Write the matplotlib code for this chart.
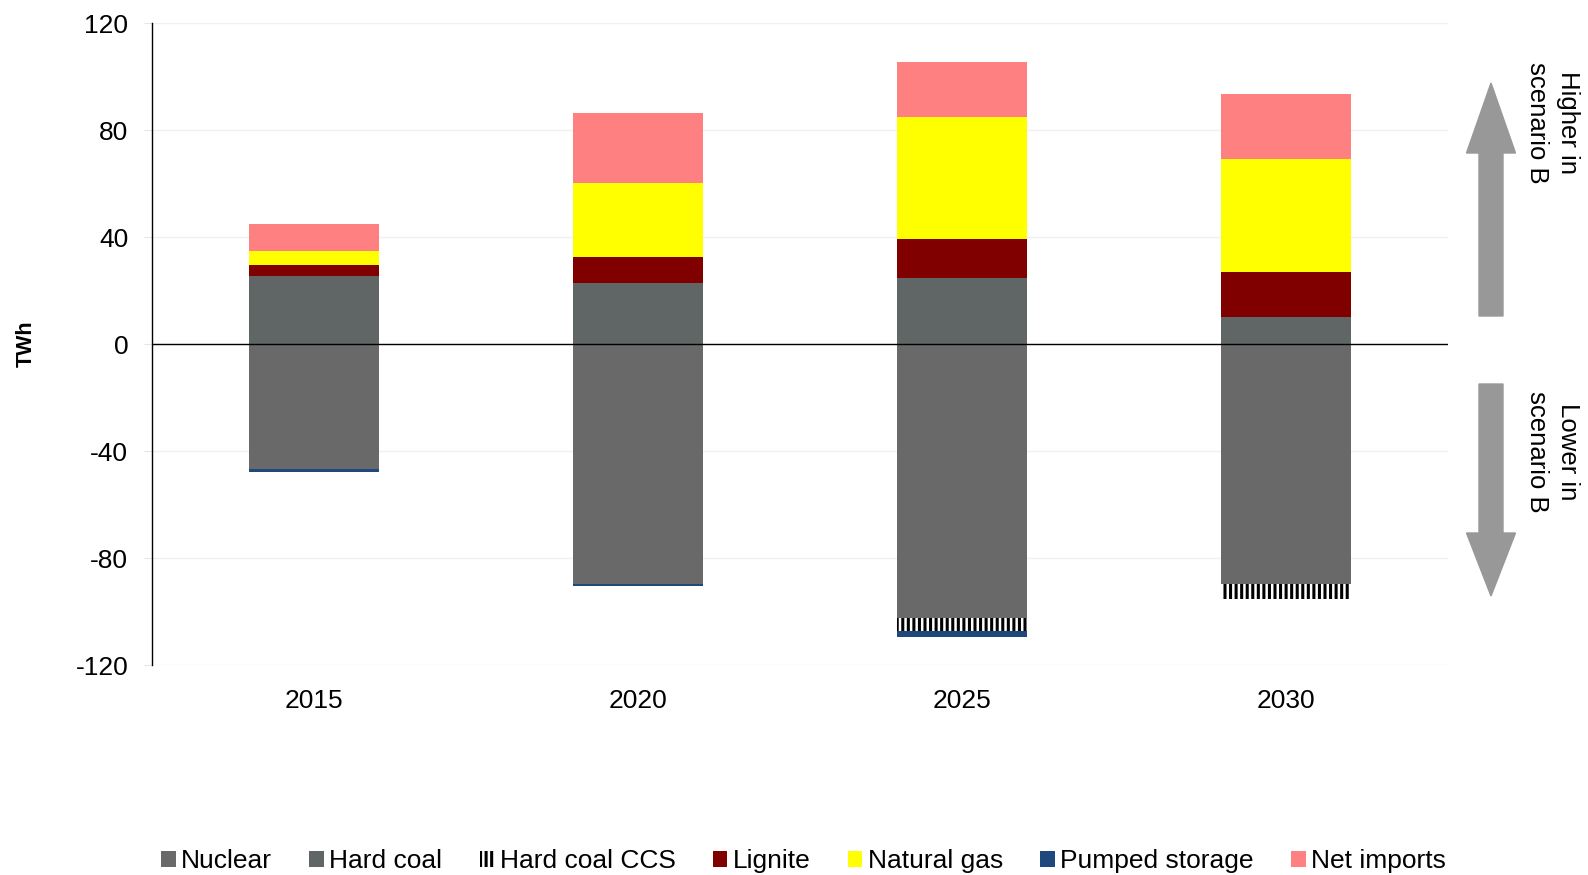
import numpy as np
import matplotlib
matplotlib.use('Agg')
import matplotlib.pyplot as plt
from matplotlib.patches import FancyArrow, Patch

plt.rcParams['font.family'] = ['Liberation Sans', 'DejaVu Sans']
plt.rcParams['hatch.linewidth'] = 2.2
plt.rcParams['axes.unicode_minus'] = False

# Difference in generation, scenario B vs reference (TWh)
years = ['2015', '2020', '2025', '2030']
nuclear = [-46.5, -89.4, -102.2, -89.6]
hard_coal_ccs = [0.0, 0.0, -5.0, -5.4]
pumped_storage = [-1.1, -0.9, -2.0, 0.0]
hard_coal = [25.7, 22.9, 24.8, 10.2]
lignite = [3.8, 9.6, 14.6, 16.8]
natural_gas = [5.5, 27.8, 45.6, 42.2]
net_imports = [10.0, 26.3, 20.7, 24.4]

c_nuclear = '#696969'
c_hard_coal = '#606665'
c_lignite = '#800000'
c_gas = '#ffff00'
c_pumped = '#1f497d'
c_imports = '#ff8080'

fig = plt.figure(figsize=(15.88, 8.75), dpi=100)
ax = fig.add_axes([0.0957, 0.2395, 0.8163, 0.7339])

x = np.arange(len(years))
w = 0.4

# positive side
bottom = np.zeros(len(years))
for vals, col in [(hard_coal, c_hard_coal), (lignite, c_lignite),
                  (natural_gas, c_gas), (net_imports, c_imports)]:
    ax.bar(x, vals, w, bottom=bottom, color=col, edgecolor='none', zorder=2)
    bottom += np.array(vals)

# negative side
bottom = np.zeros(len(years))
ax.bar(x, nuclear, w, bottom=bottom, color=c_nuclear, edgecolor='none', zorder=2)
bottom += np.array(nuclear)
ax.bar(x, hard_coal_ccs, w, bottom=bottom, color='white', edgecolor='black',
       linewidth=0, hatch='|||', zorder=2)
bottom += np.array(hard_coal_ccs)
ax.bar(x, pumped_storage, w, bottom=bottom, color=c_pumped, edgecolor='none', zorder=2)

ax.axhline(0, color='black', linewidth=1, zorder=3)

ax.set_xlim(-0.5, 3.5)
ax.set_ylim(-120, 120)
ax.set_yticks(np.arange(-120, 121, 40))
ax.set_xticks(x)
ax.set_xticklabels(years)
ax.yaxis.grid(True, color='#f0f0f0', linewidth=1, zorder=0)
ax.set_axisbelow(True)
for s in ['top', 'right', 'bottom']:
    ax.spines[s].set_visible(False)
ax.spines['left'].set_color('black')
ax.spines['left'].set_linewidth(1)
ax.tick_params(axis='y', length=6, color='#e6e6e6', labelsize=19, pad=11)
ax.tick_params(axis='x', length=0, labelsize=19, pad=17)

fig.text(26 / 1588, 1 - 344 / 875, 'TWh', rotation=90, ha='center', va='center',
         fontsize=15.5, fontweight='bold')

# legend
handles = [
    Patch(facecolor=c_nuclear, edgecolor='none', label='Nuclear'),
    Patch(facecolor=c_hard_coal, edgecolor='none', label='Hard coal'),
    Patch(facecolor='white', edgecolor='black', linewidth=0, hatch='|||', label='Hard coal CCS'),
    Patch(facecolor=c_lignite, edgecolor='none', label='Lignite'),
    Patch(facecolor=c_gas, edgecolor='none', label='Natural gas'),
    Patch(facecolor=c_pumped, edgecolor='none', label='Pumped storage'),
    Patch(facecolor=c_imports, edgecolor='none', label='Net imports'),
]
fig.legend(handles=handles, loc='center', bbox_to_anchor=(0.506, 1 - 861 / 875),
           ncol=7, frameon=False, fontsize=19, handlelength=0.55, handleheight=0.55,
           handletextpad=0.2, columnspacing=1.42, borderaxespad=0)

# side arrows and notes
arrow_col = '#989898'
up = FancyArrow(14.91, 5.59, 0, 2.33, width=0.24, head_width=0.49, head_length=0.70,
                length_includes_head=True, color=arrow_col, transform=fig.dpi_scale_trans)
down = FancyArrow(14.91, 4.91, 0, -2.12, width=0.24, head_width=0.49, head_length=0.63,
                  length_includes_head=True, color=arrow_col, transform=fig.dpi_scale_trans)
fig.add_artist(up)
fig.add_artist(down)

fig.text(0.9775, 0.9295, 'Higher in\nscenario B', rotation=-90, ha='center', va='top',
         fontsize=18.5, linespacing=1.35)
fig.text(0.9775, 0.5535, 'Lower in\nscenario B', rotation=-90, ha='center', va='top',
         fontsize=18.5, linespacing=1.35)

fig.savefig('out.png', dpi=100)
